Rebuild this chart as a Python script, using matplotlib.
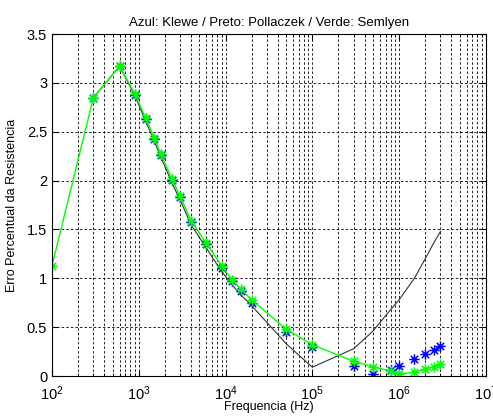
import numpy as np
import matplotlib
matplotlib.use("Agg")
import matplotlib.pyplot as plt
from matplotlib.path import Path
from matplotlib.ticker import LogLocator, NullFormatter

plt.rcParams['font.family'] = ['Liberation Sans', 'DejaVu Sans']
plt.rcParams['mathtext.fontset'] = 'custom'
plt.rcParams['mathtext.rm'] = 'Liberation Sans'
plt.rcParams['mathtext.it'] = 'Liberation Sans'

# Frequencias (Hz)
freq_semlyen = [100, 300, 600, 900, 1200, 1500, 1800, 2400, 3000, 4000, 6000, 9000,
                12000, 15000, 20000, 50000, 1e5, 3e5, 5e5, 8e5, 1e6, 1.5e6, 2e6, 2.5e6, 3e6]
freq = freq_semlyen[1:]

# Erro percentual da resistencia
klewe = [2.85, 3.17, 2.88, 2.63, 2.43, 2.26, 2.01, 1.83, 1.58, 1.35, 1.11,
         0.97, 0.87, 0.75, 0.45, 0.30, 0.105, 0.02, 0.06, 0.105, 0.17, 0.225, 0.265, 0.31]
pollaczek = [2.85, 3.17, 2.87, 2.61, 2.41, 2.24, 1.98, 1.80, 1.55, 1.31, 1.07,
             0.93, 0.83, 0.72, 0.33, 0.09, 0.28, 0.46, 0.68, 0.78, 1.00, 1.20, 1.36, 1.48]
semlyen = [1.13, 2.85, 3.17, 2.89, 2.64, 2.44, 2.27, 2.02, 1.84, 1.59, 1.36, 1.13,
           0.98, 0.89, 0.78, 0.48, 0.32, 0.15, 0.095, 0.05, 0.02, 0.04, 0.07, 0.095, 0.12]

# asterisco estilo MATLAB: "+" e "x" sobrepostos
d = 0.7071
asterisco = Path([(-1, 0), (1, 0), (0, -1), (0, 1), (-d, -d), (d, d), (-d, d), (d, -d)],
                 [Path.MOVETO, Path.LINETO] * 4)

fig = plt.figure(figsize=(4.93, 4.17), dpi=100)
ax = fig.add_axes([0.1055, 0.0983, 0.880, 0.820])

ax.semilogx(freq, klewe, linestyle='none', marker=asterisco, color='blue',
            markersize=7.5, markeredgewidth=1.1)
ax.semilogx(freq, pollaczek, color='#333333', linewidth=0.8)
ax.semilogx(freq_semlyen, semlyen, linestyle='-', marker=asterisco, color=(0, 1, 0),
            markersize=7.5, markeredgewidth=1.1, linewidth=1.0)

ax.set_xlim(1e2, 1e7)
ax.set_ylim(0, 3.5)
ax.set_yticks(np.arange(0, 3.51, 0.5))
ax.set_yticklabels(['0', '0.5', '1', '1.5', '2', '2.5', '3', '3.5'])
ax.xaxis.set_major_locator(LogLocator(base=10, numticks=10))
ax.xaxis.set_minor_locator(LogLocator(base=10, subs=np.arange(2, 10), numticks=10))
ax.xaxis.set_minor_formatter(NullFormatter())

ax.grid(True, which='major', linestyle=(0, (3, 2.5)), color='black', linewidth=0.6)
ax.grid(True, which='minor', axis='x', linestyle=(0, (3, 2.5)), color='black', linewidth=0.6)

ax.tick_params(which='both', direction='in', top=True, right=True, labelsize=10.5)
ax.tick_params(which='major', length=4)
ax.tick_params(which='minor', length=2)
ax.tick_params(axis='x', pad=6)
for s in ax.spines.values():
    s.set_linewidth(0.8)

ax.set_title('Azul: Klewe / Preto: Pollaczek / Verde: Semlyen', fontsize=9.5, pad=6)
ax.set_xlabel('Frequencia (Hz)', fontsize=9)
ax.xaxis.set_label_coords(0.5, -0.072)
ax.set_ylabel('Erro Percentual da Resistencia', fontsize=9, labelpad=6)

fig.savefig('out.png', dpi=100)
